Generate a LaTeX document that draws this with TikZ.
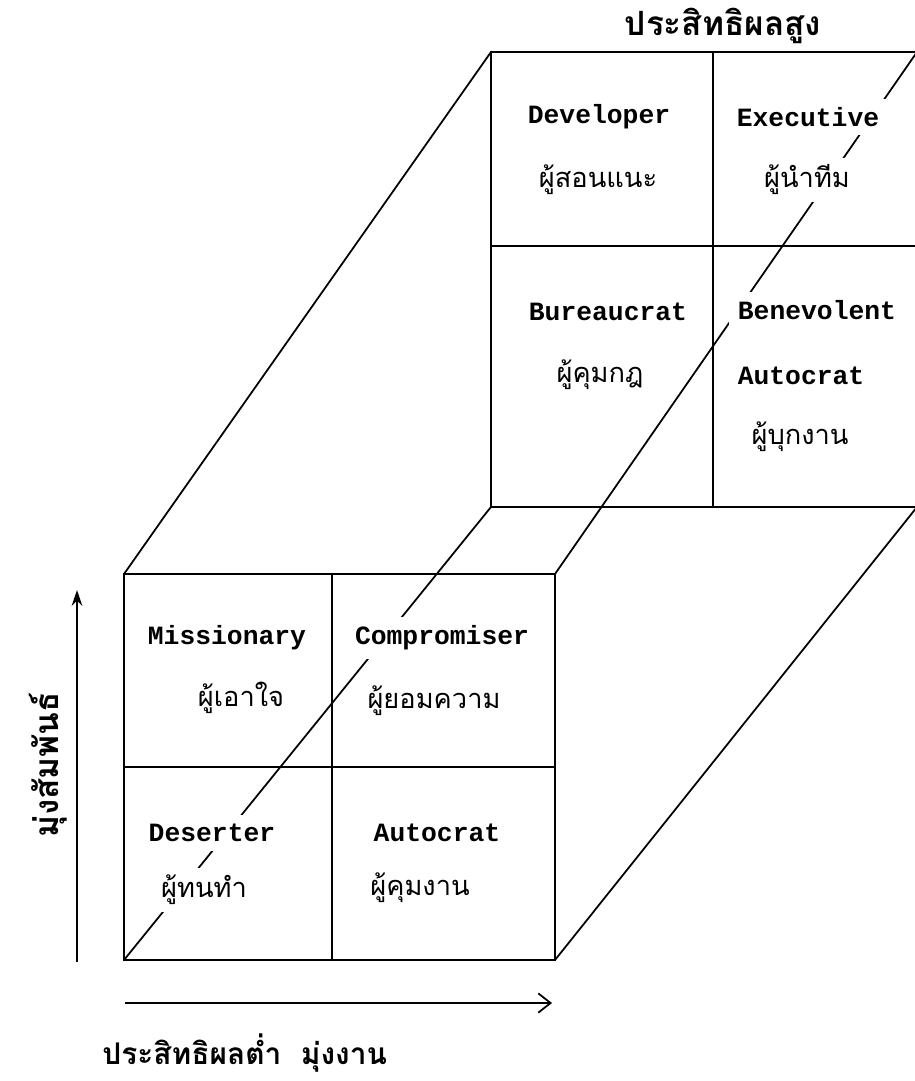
\documentclass[tikz,border=0pt]{standalone}
\usepackage{fontspec}
\usetikzlibrary{arrows.meta}
\setmonofont{Liberation Mono}
\newfontfamily\thaifont[Script=Thai]{Loma}
\tikzset{
  role/.style={font=\ttfamily\bfseries\fontsize{15}{18}\selectfont, fill=white, inner sep=5pt},
  thairole/.style={font=\thaifont\fontsize{15.5}{19}\selectfont, fill=white, inner sep=4pt},
  axislabel/.style={font=\thaifont\bfseries\fontsize{19}{22}\selectfont, inner sep=1pt},
  smalllabel/.style={axislabel, font=\thaifont\bfseries\fontsize{17}{20}\selectfont, anchor=base},
  axisarrow/.style={-{Stealth[length=9pt,width=6pt]}},
}
\begin{document}
\begin{tikzpicture}[x=0.02cm,y=-0.02cm,line width=1pt]
      \useasboundingbox (0,0) rectangle (915,1081);
      \clip (0,0) rectangle (915,1081);
      % front face
      \coordinate (f1) at (124,574);
      \coordinate (f2) at (555,574);
      \coordinate (f3) at (555,960);
      \coordinate (f4) at (124,960);
      \coordinate (fn) at (332,574);
      \coordinate (fs) at (332,960);
      \coordinate (fw) at (124,767);
      \coordinate (fe) at (555,767);
      % back face
      \coordinate (b1) at (491,52);
      \coordinate (b2) at (917,52);
      \coordinate (b3) at (917,507);
      \coordinate (b4) at (491,507);
      \coordinate (bn) at (713,52);
      \coordinate (bs) at (713,507);
      \coordinate (bw) at (491,246);
      \coordinate (be) at (917,246);
      % axes
      \coordinate (v0) at (77,962);
      \coordinate (v1) at (77,590);
      \coordinate (h0) at (125,1003);
      \coordinate (h1) at (552,1003);

      \draw (f1) -- (f2) -- (f3) -- (f4) -- cycle;
      \draw (fn) -- (fs);
      \draw (fw) -- (fe);
      \draw (b1) -- (b2) -- (b3) -- (b4) -- cycle;
      \draw (bn) -- (bs);
      \draw (bw) -- (be);
      \begin{scope}[-]
        \draw (f1) to (b1);
        \draw (f2) to (b2);
        \draw (f3) to (b3);
        \draw (f4) to (b4);
      \end{scope}
      \draw[axisarrow] (v0) -- (v1);
      \draw[-{Straight Barb[length=7pt,width=11pt]}] (h0) -- (h1);

      % back cells
      \node[role] (dev) at (599,117) {Developer};
      \node[thairole] (devt) at (598,180) {ผู้สอนแนะ};
      \node[role] (exe) at (808,117) {Executive};
      \node[thairole] (exet) at (807,180) {ผู้นำทีม};
      \node[role] (bur) at (608,312) {Bureaucrat};
      \node[thairole] (burt) at (600,375) {ผู้คุมกฎ};
      \node[role] (ben) at (817,310) {Benevolent};
      \node[role] (aut2) at (801,376) {Autocrat};
      \node[thairole] (aut2t) at (800,437) {ผู้บุกงาน};
      % front cells
      \node[role] (mis) at (227,638) {Missionary};
      \node[thairole] (mist) at (241,698) {ผู้เอาใจ};
      \node[role] (com) at (442,638) {Compromiser};
      \node[thairole] (comt) at (434,701) {ผู้ยอมความ};
      \node[role] (des) at (212,833) {Deserter};
      \node[thairole] (dest) at (204,890) {ผู้ทนทำ};
      \node[role] (aut) at (437,833) {Autocrat};
      \node[thairole] (autt) at (420,888) {ผู้คุมงาน};

      % axis labels
      \node[axislabel] (high) at (723,26) {ประสิทธิผลสูง};
      \node[smalllabel] (low) at (192,1064) {ประสิทธิผลต่ำ};
      \node[smalllabel] (task) at (344,1064) {มุ่งงาน};
      \node[axislabel, rotate=90] (rel) at (48,765) {มุ่งสัมพันธ์};
    \end{tikzpicture}
\end{document}
